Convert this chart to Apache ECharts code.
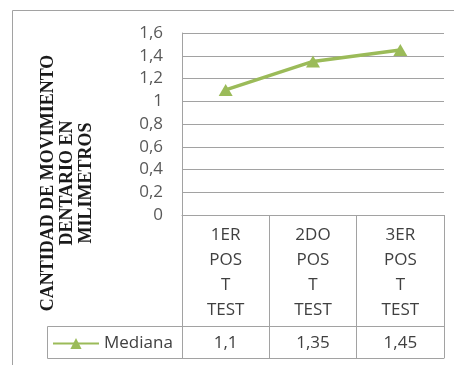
<!DOCTYPE html>
<html>
<head>
<meta charset="utf-8">
<script src="https://cdn.jsdelivr.net/npm/echarts@6/dist/echarts.min.js"></script>
<style>
  html, body { margin: 0; padding: 0; background: #fff; }
  #chart { width: 454px; height: 365px; }
</style>
</head>
<body>
<div id="chart"></div>
<script>
var categories = ['1ER\nPOS\nT\nTEST', '2DO\nPOS\nT\nTEST', '3ER\nPOS\nT\nTEST'];
var medianValues = [1.1, 1.35, 1.45];
var seriesName = 'Mediana';
var yTitle = 'CANTIDAD DE MOVIMIENTO\nDENTARIO EN\nMILIMETROS';

var gray = '#a2a2a2';
var txt = '#404040';
var green = '#9bbb59';

function comma(v) {
  return String(+(+v).toFixed(2)).replace('.', ',');
}

var myChart = echarts.init(document.getElementById('chart'));

myChart.setOption({
  animation: false,
  grid: { left: 182, right: 10, top: 33, bottom: 150 },
  legend: {
    data: [seriesName],
    left: 52,
    top: 335,
    padding: 0,
    itemWidth: 46,
    itemHeight: 14,
    textStyle: { fontFamily: 'Open Sans', fontSize: 17, color: txt }
  },
  xAxis: [{
    // header row of the data table
    type: 'category',
    data: categories,
    boundaryGap: true,
    axisLine: { show: true, lineStyle: { color: gray, width: 1 } },
    axisTick: { show: true, interval: 0, length: 143, lineStyle: { color: gray, width: 1 } },
    axisLabel: {
      interval: 0, margin: 8, lineHeight: 25,
      fontFamily: 'Open Sans', fontSize: 17, color: txt
    }
  }, {
    // values row
    type: 'category',
    position: 'bottom',
    offset: 111,
    data: medianValues.map(comma),
    axisLine: { show: true, lineStyle: { color: gray, width: 1 } },
    axisTick: { show: false },
    axisLabel: {
      interval: 0, margin: 7, lineHeight: 20,
      fontFamily: 'Open Sans', fontSize: 17, color: txt
    }
  }, {
    type: 'category',
    position: 'bottom',
    offset: 143,
    data: categories,
    axisLine: { show: true, lineStyle: { color: gray, width: 1 } },
    axisTick: { show: false },
    axisLabel: { show: false }
  }],
  yAxis: {
    type: 'value',
    min: 0,
    max: 1.6,
    interval: 0.2,
    axisLine: { show: true, lineStyle: { color: gray, width: 1 } },
    axisTick: { show: false },
    splitLine: { show: true, lineStyle: { color: gray, width: 1 } },
    axisLabel: {
      margin: 19,
      fontFamily: 'Open Sans', fontSize: 17, color: '#595959',
      formatter: function (v) { return comma(v); }
    }
  },
  graphic: [
    // chart area border (left and top)
    { type: 'line', shape: { x1: 12.5, y1: 10.5, x2: 454, y2: 10.5 }, style: { stroke: gray, lineWidth: 1 } },
    { type: 'line', shape: { x1: 12.5, y1: 10.5, x2: 12.5, y2: 365 }, style: { stroke: gray, lineWidth: 1 } },
    // legend key cell of the data table
    { type: 'rect', shape: { x: 47.5, y: 326.5, width: 135, height: 32 }, style: { fill: 'none', stroke: gray, lineWidth: 1 }, z: 0 },
    {
      type: 'text',
      x: 67, y: 183,
      rotation: Math.PI / 2,
      style: {
        text: yTitle,
        align: 'center',
        verticalAlign: 'middle',
        lineHeight: 19,
        font: 'bold 18px "Liberation Serif", "Times New Roman", serif',
        fill: '#1a1a1a'
      }
    }
  ],
  series: [{
    name: seriesName,
    type: 'line',
    data: medianValues,
    symbol: 'triangle',
    symbolSize: [14, 12],
    itemStyle: { color: green },
    lineStyle: { color: green, width: 3.5 }
  }]
});
</script>
</body>
</html>
